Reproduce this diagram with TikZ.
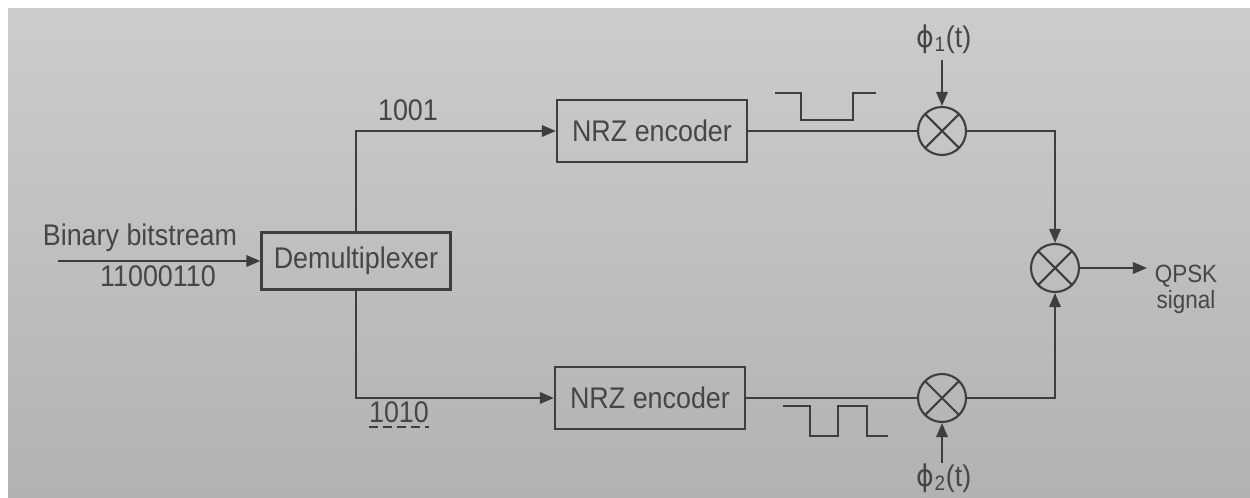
\documentclass[tikz,border=0pt]{standalone}
\usepackage{fontspec}
\setmainfont{Liberation Sans}[FakeStretch=0.9]
\newfontfamily\gkfont{DejaVu Sans}[FakeStretch=0.9]
\usetikzlibrary{arrows.meta,calc}
\definecolor{paperA}{RGB}{202,205,203}
\definecolor{paperB}{RGB}{176,179,178}
\definecolor{ink}{RGB}{62,62,62}
\definecolor{txt}{RGB}{70,70,70}
\begin{document}
\begin{tikzpicture}[x=0.02cm,y=-0.02cm,
  font=\fontsize{17}{20}\selectfont,
  blk/.style={draw=ink, line width=1.3pt, minimum width=3.8cm, minimum height=1.24cm, inner sep=0pt, text=txt},
  mix/.style={circle, draw=ink, line width=1.2pt, minimum size=0.96cm, inner sep=0pt,
    path picture={\draw[ink,line width=1.2pt] (path picture bounding box.north west) -- (path picture bounding box.south east)
      (path picture bounding box.north east) -- (path picture bounding box.south west);}},
  wire/.style={draw=ink, line width=1.2pt},
  arr/.style={wire, -{Triangle[length=8pt,width=6.5pt]}},
  lbl/.style={text=txt, inner sep=0pt, anchor=base},
  small/.style={font=\fontsize{14.2}{17}\selectfont}]
\useasboundingbox (0,0) rectangle (1250,497);
\fill[white] (0,0) rectangle (1250,497);
\shade[top color=paperA, bottom color=paperB] (8,8) rectangle (1250,497);

% blocks
\node[blk, minimum width=3.78cm, minimum height=1.14cm] (dmx) at (356,261) {Demultiplexer};
\node[blk] (nrz1) at (652,131) {NRZ encoder};
\node[blk] (nrz2) at (650,398) {NRZ encoder};
\node[mix] (m1) at (942,131) {};
\node[mix] (m2) at (942,398) {};
\node[mix] (m3) at (1055,268) {};
\coordinate (src) at (58,261);
\coordinate (out) at (1147,268);
\coordinate (p1) at (942,60);
\coordinate (p2) at (942,463);

% connectors
\draw[arr] (src) -- (dmx.west);
\draw[arr] (dmx.north) |- (nrz1.west);
\draw[arr] (dmx.south) |- (nrz2.west);
\draw[wire] (nrz1.east) -- (m1.west);
\draw[wire] (nrz2.east) -- (m2.west);
\draw[arr] (m1.east) -| (m3.north);
\draw[arr] (m2.east) -| (m3.south);
\draw[arr] (m3.east) -- (out);
\draw[arr] (p1) -- (m1.north);
\draw[arr] (p2) -- (m2.south);

% waveforms
\draw[wire] (775,93) -- (801,93) -- (801,120) -- (853,120) -- (853,93) -- (876,93);
\draw[wire] (783,406) -- (810,406) -- (810,436) -- (838,436) -- (838,406) -- (867,406) -- (867,436) -- (888,436);

% labels
\node[lbl] (tin) at (140,245) {Binary bitstream};
\node[lbl] (tbits) at (158,286) {11000110};
\node[lbl] (t1001) at (408,120) {1001};
\node[lbl] (t1010) at (399,422) {1010};
\draw[draw=ink, line width=1pt, dash pattern=on 5pt off 3pt] ([yshift=-2.8pt]t1010.base west) -- ([yshift=-2.8pt]t1010.base east);
\node[lbl, small] (tq) at (1186,282) {QPSK};
\node[lbl, small] (ts) at (1186,308) {signal};
\node[lbl] (tp1) at (944,47) {{\gkfont ϕ}\textsubscript{1}(t)};
\node[lbl] (tp2) at (944,486) {{\gkfont ϕ}\textsubscript{2}(t)};
\end{tikzpicture}
\end{document}
